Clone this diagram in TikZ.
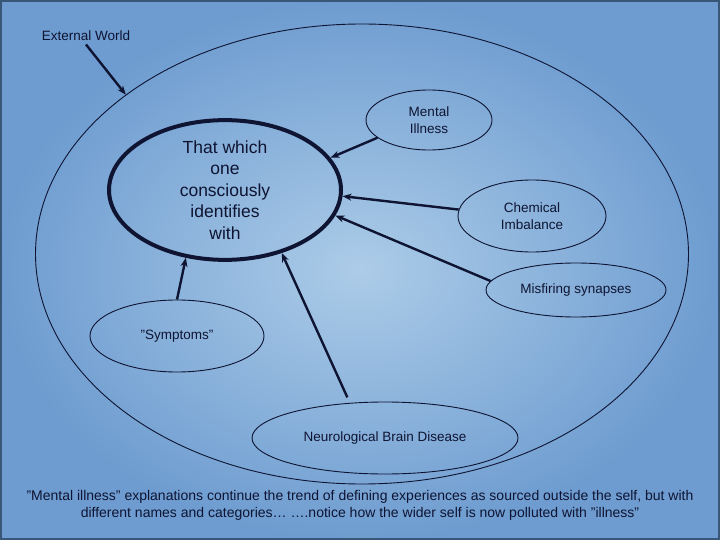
\documentclass[tikz,border=0pt]{standalone}
\usepackage{fontspec}
\setmainfont{Liberation Sans}
\usepackage{xcolor}
\definecolor{fondo}{RGB}{172,204,232}
\definecolor{fondo2}{RGB}{110,156,208}
\definecolor{marco}{RGB}{58,86,118}
\definecolor{tinta}{RGB}{14,20,50}
\usetikzlibrary{arrows.meta,shapes.geometric}

\begin{document}
\begin{tikzpicture}[x=1pt,y=-1pt,>={Stealth[length=9pt,width=7pt]},
    bubble/.style={ellipse,draw=tinta,line width=0.9pt,inner sep=0pt,text=tinta,
      font=\fontsize{13.5}{17}\selectfont,align=center},
    flecha/.style={->,tinta,line width=2.4pt}]
    % background
    \useasboundingbox (0,0) rectangle (720,540);
    \shade[inner color=fondo,outer color=fondo2] (0,0) rectangle (720,540);
    \draw[marco,line width=2pt] (1,1) rectangle (719,539);
    % wider self
    \node[ellipse,draw=tinta,line width=0.9pt,minimum width=653,minimum height=460] (world) at (362,254) {};
    \node[text=tinta,font=\fontsize{13.5}{17}\selectfont] (ext) at (86,36) {External World};
    % conscious self
    \node[ellipse,draw=tinta,line width=4pt,minimum width=232,minimum height=132,inner sep=0pt,
      text=tinta,align=center,font=\fontsize{17.5}{21.5}\selectfont] (self) at (225,190)
      {That which\\one\\consciously\\identifies\\with};
    % outside explanations
    \node[bubble,minimum width=126,minimum height=60] (mi) at (429,120) {Mental\\Illness};
    \node[bubble,minimum width=148,minimum height=72] (chem) at (532,216) {Chemical\\Imbalance};
    \node[bubble,minimum width=180,minimum height=54] (mis) at (576,290) {Misfiring synapses};
    \node[bubble,minimum width=174,minimum height=72] (sym) at (177,336) {\symbol{34}Symptoms\symbol{34}};
    \node[bubble,minimum width=266,minimum height=72] (neuro) at (385,438) {Neurological Brain Disease};
    % arrows
    \draw[flecha] (ext.south) -- (world.146);
    \draw[flecha] (mi.199) -- (self.17);
    \draw[flecha] (chem.175) -- (self.357);
    \draw[flecha] (mis.174) -- (self.347);
    \draw[flecha] (sym.north) -- (self.240);
    \draw[flecha,shorten <=6pt] (neuro.135) -- (self.312);
    % caption
    \node[text=tinta,align=center,font=\fontsize{14}{17}\selectfont] (nota) at (360,505)
      {\symbol{34}Mental illness\symbol{34} explanations continue the trend of defining experiences as sourced outside the self, but with\\
       different names and categories\dots\ \dots.notice how the wider self is now polluted with \symbol{34}illness\symbol{34}};
\end{tikzpicture}
\end{document}
